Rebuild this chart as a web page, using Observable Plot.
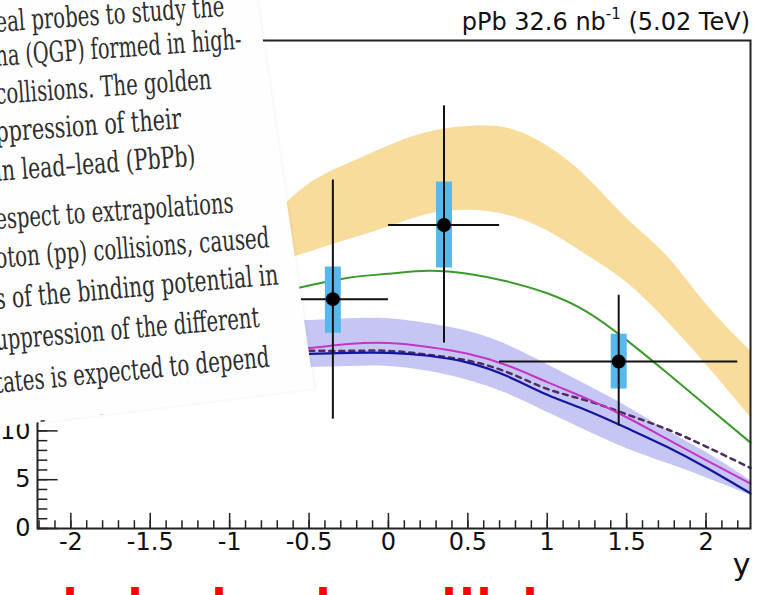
<!DOCTYPE html>
<html><head><meta charset="utf-8">
<script src="https://cdn.jsdelivr.net/npm/d3@7"></script>
<script src="https://cdn.jsdelivr.net/npm/@observablehq/plot@0.6"></script>
<style>
html,body{margin:0;padding:0;background:#fff;}
#wrap{position:relative;width:759px;height:595px;overflow:hidden;}
#title{height:38px;font:24px "DejaVu Sans",sans-serif;color:#111;text-align:right;padding-right:9px;line-height:38px;position:relative;top:3px;box-sizing:border-box;white-space:nowrap;}
#title sup{font-size:15px;vertical-align:0;position:relative;top:-11px;}
#overlay{position:absolute;left:0;top:0;pointer-events:none;}
</style></head><body>
<div id="wrap">
<div id="title">pPb 32.6 nb<sup>-1</sup> (5.02 TeV)</div>
<div id="chart"></div>
<svg id="overlay" width="759" height="595"></svg>
</div>
<script>
// ---------- chart data ----------
const curveX   = [-0.75, -0.5, -0.25, 0, 0.25, 0.5, 0.75, 1.0, 1.25, 1.5, 1.75, 2.0, 2.28];
const yellowHi = [31.6, 35.3, 37.4, 39.2, 40.6, 41.2, 41.0, 39.2, 36.0, 31.8, 28.0, 23.0, 18.2];
const yellowLo = [27.0, 28.3, 29.6, 30.9, 32.2, 32.6, 32.1, 30.5, 28.0, 25.2, 21.3, 16.8, 11.4];
const greenY   = [24.0, 24.9, 25.7, 26.1, 26.4, 26.1, 25.3, 24.1, 22.2, 19.3, 16.0, 12.6, 8.8];
const lavHi    = [21.2, 21.3, 21.5, 21.5, 21.0, 20.2, 18.8, 16.8, 14.7, 12.5, 10.1, 7.8, 4.9];
const lavLo    = [16.4, 16.5, 16.6, 16.6, 16.1, 15.2, 13.8, 11.9, 10.0, 8.2, 6.7, 5.2, 3.4];
const pinkY    = [18.3, 18.5, 18.9, 19.0, 18.6, 17.9, 16.7, 15.0, 13.3, 11.4, 9.2, 7.0, 4.6];
const blueY    = [17.8, 17.9, 18.0, 18.0, 17.7, 17.0, 15.6, 13.7, 12.1, 10.3, 8.4, 6.25, 3.6];
const dashY    = [18.1, 18.2, 18.2, 18.2, 17.8, 17.2, 16.0, 14.3, 13.1, 11.7, 10.2, 8.4, 6.2];

const binX   = [-0.35, 0.35, 1.45];
const binLo  = [-0.7, 0, 0.7];
const binHi  = [0, 0.7, 2.2];
const valY   = [23.5, 31.1, 17.1];
const statLo = [11.2, 19.0, 10.5];
const statHi = [35.7, 43.3, 23.9];
const sysLo  = [20.0, 26.7, 14.3];
const sysHi  = [26.8, 35.5, 19.9];

const xTickVals   = [-2, -1.5, -1, -0.5, 0, 0.5, 1, 1.5, 2];
const xTickLabels = ["-2", "-1.5", "-1", "-0.5", "0", "0.5", "1", "1.5", "2"];
const yTickVals   = [0, 5, 10];
const yTickLabels = ["0", "5", "10"];
const xAxisTitle  = "y";

// ---------- tables ----------
const curves = curveX.map((x, i) => ({x, yHi: yellowHi[i], yLo: yellowLo[i], g: greenY[i],
  lHi: lavHi[i], lLo: lavLo[i], p: pinkY[i], b: blueY[i], d: dashY[i]}));
const pts = binX.map((x, i) => ({x, lo: binLo[i], hi: binHi[i], y: valY[i],
  sLo: statLo[i], sHi: statHi[i], yLo: sysLo[i], yHi: sysHi[i]}));
const xDomain = [-2.21, 2.28];
const xMinor = d3.range(-2.2, 2.25, 0.1).map(v => +v.toFixed(2));
const yMinor = d3.range(0, 11, 1);

const chart = Plot.plot({
  width: 759, height: 557,
  marginTop: 2, marginBottom: 67, marginLeft: 37, marginRight: 9,
  x: {domain: xDomain, axis: null},
  y: {domain: [0, 50], axis: null},
  style: {fontFamily: "DejaVu Sans", background: "transparent", overflow: "visible"},
  marks: [
    Plot.areaY(curves, {x: "x", y1: "yLo", y2: "yHi", fill: "#f7dc9c", curve: "natural"}),
    Plot.areaY(curves, {x: "x", y1: "lLo", y2: "lHi", fill: "#c6c6f4", curve: "natural"}),
    Plot.line(curves, {x: "x", y: "g", stroke: "#3c9a2c", strokeWidth: 2, curve: "natural"}),
    Plot.line(curves, {x: "x", y: "d", stroke: "#4e2c5c", strokeWidth: 2.5, strokeDasharray: "5,5", curve: "natural"}),
    Plot.line(curves, {x: "x", y: "p", stroke: "#c535c5", strokeWidth: 2, curve: "natural"}),
    Plot.line(curves, {x: "x", y: "b", stroke: "#1414a0", strokeWidth: 2.2, curve: "natural"}),
    Plot.ruleX(pts, {x: "x", y1: "yLo", y2: "yHi", stroke: "#58b8ea", strokeWidth: 16}),
    Plot.ruleX(pts, {x: "x", y1: "sLo", y2: "sHi", stroke: "#111", strokeWidth: 2}),
    Plot.ruleY(pts, {y: "y", x1: "lo", x2: "hi", stroke: "#111", strokeWidth: 2}),
    Plot.dot(pts, {x: "x", y: "y", r: 7, fill: "#000"}),
    // axis ticks drawn inside the frame
    Plot.ruleX(xMinor, {x: d => d, y1: 0, y2: 0.8, stroke: "#222", strokeWidth: 1.5}),
    Plot.ruleX(xTickVals, {x: d => d, y1: 0, y2: 1.55, stroke: "#222", strokeWidth: 1.5}),
    Plot.ruleY(yMinor, {y: d => d, x1: xDomain[0], x2: xDomain[0] + 0.065, stroke: "#222", strokeWidth: 1.5}),
    Plot.ruleY(yTickVals, {y: d => d, x1: xDomain[0], x2: xDomain[0] + 0.13, stroke: "#222", strokeWidth: 1.5}),
    Plot.frame({stroke: "#222", strokeWidth: 2}),
    Plot.text(xTickVals, {x: d => d, frameAnchor: "bottom", dy: 21, text: (d, i) => xTickLabels[i], fontSize: 24, fill: "#111"}),
    Plot.text(yTickVals, {y: d => d, frameAnchor: "left", dx: -7, textAnchor: "end", text: (d, i) => yTickLabels[i], fontSize: 24, fill: "#111"}),
    Plot.text([xAxisTitle], {frameAnchor: "bottom-right", dy: 46, dx: 0, textAnchor: "end", text: d => d, fontSize: 30, fill: "#111"})
  ]
});
document.getElementById("chart").appendChild(chart);

// ---------- overlaid clipping of article text (photo collage) ----------
const paperPoly = [[0, 0], [257, 0], [314, 388], [0, 427]];
const paperText = [
  "eal probes to study the",
  "na (QGP) formed in high-",
  "collisions. The golden",
  "ppression of their",
  "in lead\u2013lead (PbPb)",
  "espect to extrapolations",
  "oton (pp) collisions, caused",
  "s of the binding potential in",
  "uppression of the different",
  "tates is expected to depend",
  "on the \u03d2 binding energies"
];
const paperBase  = [32, 66, 104, 142, 181, 229, 268, 309, 350, 393, 447];
const paperEnd   = [225, 242, 212, 182, 196, 234, 270, 279, 260, 270, 300];
const paperAngle = [-4, -4, -4, -4.2, -4.4, -4, -4.3, -5, -5, -5.5, -5.5];
const redMarkX = [70, 135, 219, 323, 449, 467, 484, 530];

const ov = d3.select("#overlay");
const defs = ov.append("defs");
defs.append("clipPath").attr("id", "paperClip").append("polygon")
  .attr("points", paperPoly.map(p => p.join(",")).join(" "));
const f = defs.append("filter").attr("id", "sh").attr("x", "-10%").attr("y", "-10%").attr("width", "130%").attr("height", "130%");
f.append("feDropShadow").attr("dx", 1).attr("dy", 0.5).attr("stdDeviation", 1.5).attr("flood-color", "#000").attr("flood-opacity", 0.06);
ov.append("polygon").attr("points", paperPoly.map(p => p.join(",")).join(" "))
  .attr("fill", "#fefefe").attr("filter", "url(#sh)");
const g = ov.append("g").attr("clip-path", "url(#paperClip)");
const x0 = -4;
paperText.forEach((t, i) => {
  const a = paperAngle[i];
  g.append("text").attr("x", x0).attr("y", paperBase[i])
    .attr("transform", `rotate(${a},${x0},${paperBase[i]})`)
    .attr("font-family", "DejaVu Serif").attr("font-size", 29).attr("fill", "#2e2e2e")
    .attr("textLength", (paperEnd[i] - x0) / Math.cos(a * Math.PI / 180))
    .attr("lengthAdjust", "spacingAndGlyphs")
    .text(t);
});
// tops of a red caption line cut off by the bottom edge
redMarkX.forEach(x => {
  ov.append("text").attr("x", x).attr("y", 621).attr("text-anchor", "middle")
    .attr("font-family", "DejaVu Sans").attr("font-weight", "bold").attr("font-size", 44)
    .attr("fill", "#ff0000").text("l");
});
</script>
</body></html>
